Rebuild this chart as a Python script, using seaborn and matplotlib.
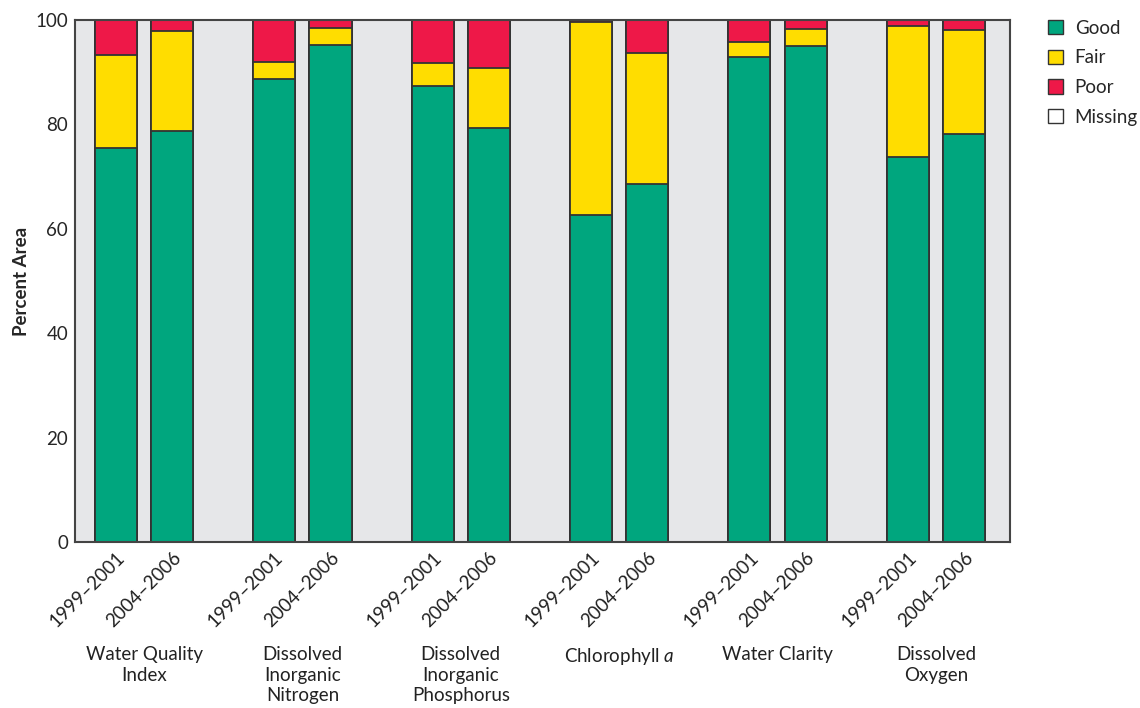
import numpy as np
import pandas as pd
import seaborn as sns
import matplotlib.pyplot as plt
from matplotlib.patches import Patch
from matplotlib.transforms import blended_transform_factory

indicators = ["Water Quality\nIndex", "Dissolved\nInorganic\nNitrogen",
              "Dissolved\nInorganic\nPhosphorus", "Chlorophyll $\\mathit{a}$",
              "Water Clarity", "Dissolved\nOxygen"]
periods = ["1999\u20132001", "2004\u20132006"]
good = [75.5, 78.8, 88.7, 95.3, 87.4, 79.4, 62.6, 68.6, 92.9, 95.1, 73.8, 78.2]
fair = [17.8, 19.0, 3.2, 3.1, 4.4, 11.4, 37.0, 25.0, 2.9, 3.1, 25.1, 19.9]
poor = [6.7, 2.2, 8.1, 1.6, 8.2, 9.2, 0.4, 6.4, 4.2, 1.8, 1.1, 1.9]
missing = [0.0] * 12
legend_labels = ["Good", "Fair", "Poor", "Missing"]
yticks = [0, 20, 40, 60, 80, 100]

C_GOOD, C_FAIR, C_POOR, C_MISS = "#00A67E", "#FFDD00", "#EE1848", "#FFFFFF"
EDGE = "#333333"

sns.set_style("white")
plt.rcParams["font.family"] = ["Lato", "DejaVu Sans"]
plt.rcParams["mathtext.fontset"] = "custom"
plt.rcParams["mathtext.rm"] = "Lato"
plt.rcParams["mathtext.it"] = "Lato:italic"

GAP = 2.82
pos = [g * GAP + j for g in range(len(indicators)) for j in range(len(periods))]
df = pd.DataFrame({
    "pos": pos,
    "period": periods * len(indicators),
    "good": good,
    "fair": fair,
    "poor": poor,
    "missing": missing,
})
df["c_fair"] = df["good"] + df["fair"]
df["c_poor"] = df["c_fair"] + df["poor"]
df["c_miss"] = df["c_poor"] + df["missing"]

fig = plt.figure(figsize=(11.4, 7.08), dpi=100)
ax = fig.add_axes([75 / 1140, 1 - 542 / 708, (1010 - 75) / 1140, (542 - 20) / 708])
ax.set_facecolor("#E6E7E9")

for col, color in [("c_miss", C_MISS), ("c_poor", C_POOR), ("c_fair", C_FAIR), ("good", C_GOOD)]:
    sns.barplot(data=df, x="pos", y=col, native_scale=True, orient="x", width=0.75,
                color=color, saturation=1, edgecolor=EDGE, linewidth=1.3,
                errorbar=None, ax=ax)

ax.set_xlim(-0.73, (len(indicators) - 1) * GAP + 1 + 0.82)
ax.set_ylim(0, 100)
ax.set_yticks(yticks)
ax.set_yticklabels([str(t) for t in yticks], fontsize=13.5)
ax.tick_params(axis="y", direction="in", length=5, width=1.2, color="#444444", pad=5)
ax.set_xticks(pos)
ax.set_xticklabels(df["period"], rotation=45, ha="right", rotation_mode="anchor", fontsize=13.5)
ax.tick_params(axis="x", length=0, pad=5)
for lbl in ax.get_xticklabels():
    lbl.set_color("#222222")
ax.set_xlabel("")
ax.set_ylabel("Percent Area", fontsize=13.5, fontweight="bold", labelpad=4)
for s in ax.spines.values():
    s.set_color("#444444")
    s.set_linewidth(1.5)

tr = blended_transform_factory(ax.transData, ax.transAxes)
for g, name in enumerate(indicators):
    ax.text(g * GAP + 0.5, -0.2, name, transform=tr, ha="center", va="top",
            fontsize=13.5, linespacing=1.25, color="#222222")

handles = [Patch(facecolor=c, edgecolor=EDGE, linewidth=1.0) for c in [C_GOOD, C_FAIR, C_POOR, C_MISS]]
fig.legend(handles, legend_labels, loc="upper left", bbox_to_anchor=(1040 / 1140, 1 - 12 / 708),
           frameon=False, fontsize=13.5, handlelength=0.8, handleheight=0.8,
           labelspacing=0.68, handletextpad=0.65, borderaxespad=0)

fig.savefig("out.png", dpi=100)
